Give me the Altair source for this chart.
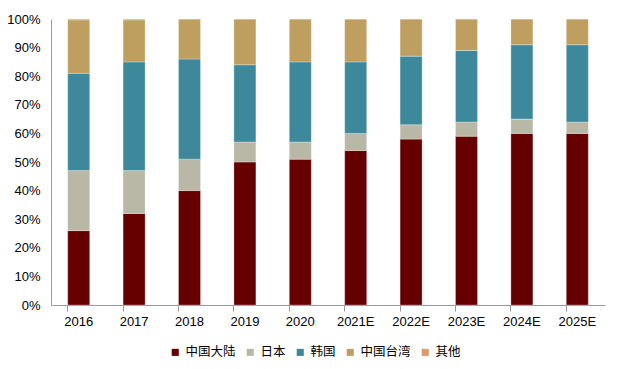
import altair as alt
import pandas as pd

years = ["2016", "2017", "2018", "2019", "2020", "2021E", "2022E", "2023E", "2024E", "2025E"]
regions = ["中国大陆", "日本", "韩国", "中国台湾", "其他"]
colors = ["#660000", "#B9B8A6", "#3E889C", "#BF9F5F", "#DF9A66"]

mainland = [26, 32, 40, 50, 51, 54, 58, 59, 60, 60]
japan = [21, 15, 11, 7, 6, 6, 5, 5, 5, 4]
korea = [34, 38, 35, 27, 28, 25, 24, 25, 26, 27]
taiwan = [18.7, 14.7, 14, 16, 15, 15, 13, 11, 9, 9]
other = [0.3, 0.3, 0, 0, 0, 0, 0, 0, 0, 0]

series = [mainland, japan, korea, taiwan, other]
rows = []
for ri, (name, vals) in enumerate(zip(regions, series)):
    for y, v in zip(years, vals):
        rows.append({"year": y, "region": name, "value": v, "ord": ri})
df = pd.DataFrame(rows)

font = "Liberation Sans"

chart = alt.Chart(df).mark_bar(size=22, stroke="#ffffff", strokeWidth=0.4, strokeOpacity=0.7).encode(
    x=alt.X("year:N", sort=years, title=None,
            scale=alt.Scale(paddingInner=0.6, paddingOuter=0.3),
            axis=alt.Axis(labelAngle=0, labelFont=font, labelFontSize=13, labelFontWeight="normal",
                          labelColor="#000000", domainColor="#999999", tickColor="#999999",
                          tickSize=6, bandPosition=0, labelPadding=4)),
    y=alt.Y("value:Q", stack="normalize", title=None,
            scale=alt.Scale(domain=[0, 1]),
            axis=alt.Axis(format=".0%", values=[i / 10 for i in range(11)], grid=False, ticks=False,
                          labelFont=font, labelFontSize=13, labelFontWeight="normal", labelColor="#000000",
                          domainColor="#999999", labelPadding=11)),
    color=alt.Color("region:N", sort=regions,
                    scale=alt.Scale(domain=regions, range=colors),
                    legend=alt.Legend(orient="none", direction="horizontal", title=None,
                                      legendX=118, legendY=327,
                                      symbolType="square", symbolSize=50, symbolStrokeWidth=0,
                                      labelFont="Noto Sans CJK SC", labelFontSize=12.5, labelColor="#000000",
                                      labelOffset=4, columnPadding=8, symbolOffset=0)),
    order=alt.Order("ord:Q", sort="ascending"),
).properties(
    width=554, height=286,
    autosize=alt.AutoSizeParams(type="none"),
    padding={"left": 43, "top": 11, "right": 7, "bottom": 56},
).configure_view(stroke=None)

chart.save("out.html", embed_options={"renderer": "svg", "actions": False})
